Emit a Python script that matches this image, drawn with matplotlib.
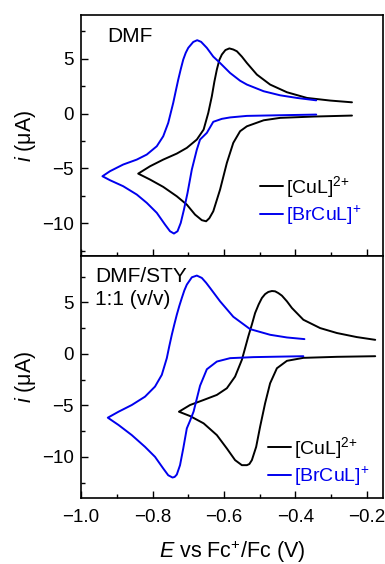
import matplotlib
matplotlib.use("Agg")
import matplotlib.pyplot as plt
from matplotlib.ticker import MultipleLocator

plt.rcParams['font.family'] = ['Liberation Sans', 'DejaVu Sans']
plt.rcParams['mathtext.fontset'] = 'custom'
plt.rcParams['mathtext.rm'] = 'Liberation Sans'
plt.rcParams['mathtext.it'] = 'Liberation Sans:italic'

# ---- DMF panel: [CuL]2+ (cathodic sweep right->left, then anodic sweep left->right) ----
dmf_cu_E = [-0.242, -0.349, -0.443, -0.489, -0.536, -0.555, -0.574, -0.592, -0.611, -0.630,
            -0.641, -0.650, -0.662, -0.681, -0.704, -0.732, -0.770, -0.807, -0.840,
            -0.807, -0.770, -0.732, -0.704, -0.676, -0.657, -0.644, -0.634, -0.627, -0.620,
            -0.613, -0.606, -0.596, -0.585, -0.574, -0.564, -0.550, -0.536, -0.508, -0.471,
            -0.424, -0.368, -0.303, -0.242]
dmf_cu_i = [-0.18, -0.27, -0.39, -0.61, -1.16, -1.61, -2.67, -4.5, -6.94, -8.92,
            -9.55, -9.83, -9.73, -9.22, -8.31, -7.55, -6.69, -6.02, -5.48,
            -4.81, -4.20, -3.65, -3.13, -2.37, -1.46, 0.06, 1.58, 2.9, 4.02,
            4.9, 5.39, 5.8, 5.95, 5.85, 5.69, 5.2, 4.62, 3.56, 2.65,
            1.95, 1.43, 1.19, 1.03]

# ---- DMF panel: [BrCuL]+ ----
dmf_br_E = [-0.342, -0.443, -0.536, -0.583, -0.606, -0.630, -0.648, -0.667, -0.676, -0.690,
            -0.702, -0.712, -0.721, -0.730, -0.740, -0.751, -0.765, -0.788, -0.816, -0.844,
            -0.882, -0.919, -0.940,
            -0.919, -0.882, -0.844, -0.816, -0.788, -0.770, -0.756, -0.742, -0.735, -0.728,
            -0.721, -0.714, -0.707, -0.700, -0.686, -0.675, -0.664, -0.648, -0.630, -0.611,
            -0.583, -0.555, -0.536, -0.489, -0.443, -0.396, -0.342]
dmf_br_i = [-0.09, -0.15, -0.21, -0.35, -0.48, -0.75, -1.76, -2.37, -3.29, -5.11,
            -7.24, -8.76, -9.98, -10.74, -10.95, -10.74, -10.13, -9.06, -8.15, -7.39,
            -6.63, -6.08, -5.72,
            -5.26, -4.65, -4.20, -3.74, -2.98, -2.07, -0.85, 0.98, 2.05, 3.10,
            4.05, 4.93, 5.55, 6.0, 6.54, 6.70, 6.55, 6.0, 5.2, 4.62,
            3.71, 3.0, 2.65, 2.04, 1.67, 1.43, 1.21]

# ---- DMF/STY panel: [CuL]2+ ----
sty_cu_E = [-0.177, -0.284, -0.378, -0.424, -0.452, -0.471, -0.485, -0.499, -0.510, -0.522,
            -0.529, -0.536, -0.550, -0.569, -0.592, -0.620, -0.657, -0.695, -0.726,
            -0.695, -0.657, -0.620, -0.592, -0.569, -0.550, -0.541, -0.532, -0.522, -0.513,
            -0.503, -0.494, -0.485, -0.476, -0.466, -0.457, -0.448, -0.438, -0.424, -0.410,
            -0.378, -0.331, -0.284, -0.229, -0.177]
sty_cu_i = [-0.23, -0.29, -0.39, -0.68, -1.40, -2.86, -4.80, -7.08, -9.03, -10.32,
            -10.7, -10.81, -10.81, -10.32, -9.19, -7.89, -6.75, -6.04, -5.62,
            -4.97, -4.48, -3.99, -3.34, -2.21, -0.58, 0.55, 1.69, 2.85, 3.96,
            4.8, 5.42, 5.8, 6.01, 6.1, 6.07, 5.9, 5.65, 5.1, 4.45,
            3.31, 2.50, 2.02, 1.63, 1.36]

# ---- DMF/STY panel: [BrCuL]+ ----
sty_br_E = [-0.378, -0.518, -0.583, -0.620, -0.648, -0.667, -0.685, -0.695, -0.704, -0.714,
            -0.723, -0.732, -0.738, -0.744, -0.756, -0.770, -0.793, -0.821, -0.858, -0.895,
            -0.925,
            -0.895, -0.858, -0.821, -0.793, -0.774, -0.760, -0.753, -0.746, -0.739, -0.732,
            -0.725, -0.718, -0.711, -0.704, -0.690, -0.676, -0.662, -0.650, -0.639, -0.611,
            -0.574, -0.527, -0.471, -0.424, -0.375]
sty_br_i = [-0.23, -0.32, -0.42, -0.75, -1.50, -3.1, -5.6, -6.5, -7.24, -9.19,
            -10.81, -11.72, -11.95, -12.01, -11.79, -11.13, -10.0, -9.03, -7.89, -6.91,
            -6.20,
            -5.62, -4.97, -4.16, -3.18, -2.04, -0.42, 0.75, 1.85, 2.85, 3.80,
            4.65, 5.42, 6.15, 6.72, 7.43, 7.60, 7.37, 6.9, 6.40, 5.1,
            3.6, 2.40, 1.85, 1.59, 1.43]

labels = ['[CuL]$^{2{+}}$', '[BrCuL]$^{{+}}$']
colors = ['black', '#0000ee']
xticks = [-1.0, -0.8, -0.6, -0.4, -0.2]
xticklabels = ['\u22121.0', '\u22120.8', '\u22120.6', '\u22120.4', '\u22120.2']

fig = plt.figure(figsize=(3.85, 5.64), dpi=100)
ax1 = fig.add_axes([0.2104, 0.5461, 0.7846, 0.4273])
ax2 = fig.add_axes([0.2104, 0.1170, 0.7846, 0.4291], sharex=ax1)

legend_anchor = {0: (0.593, 0.230), 1: (0.619, 0.151)}

for k, (ax, cu, br) in enumerate([(ax1, (dmf_cu_E, dmf_cu_i), (dmf_br_E, dmf_br_i)),
                                  (ax2, (sty_cu_E, sty_cu_i), (sty_br_E, sty_br_i))]):
    ax.plot(cu[0], cu[1], color=colors[0], lw=1.4, label=labels[0],
            solid_joinstyle='round', solid_capstyle='round')
    ax.plot(br[0], br[1], color=colors[1], lw=1.4, label=labels[1],
            solid_joinstyle='round', solid_capstyle='round')
    ax.set_xlim(-1.0, -0.155)
    ax.set_xticks(xticks)
    ax.xaxis.set_minor_locator(MultipleLocator(0.1))
    ax.yaxis.set_major_locator(MultipleLocator(5))
    ax.yaxis.set_minor_locator(MultipleLocator(2.5))
    ax.tick_params(which='both', direction='in', labelsize=13.5, top=False, right=False)
    ax.tick_params(which='major', length=5, width=1)
    ax.tick_params(which='minor', length=3, width=1)
    ax.tick_params(axis='x', which='major', pad=8)
    ax.tick_params(axis='y', which='major', pad=5)
    for s in ax.spines.values():
        s.set_linewidth(1.2)
    ax.set_ylabel('$i$ (μA)', fontsize=15.5, labelpad=3)
    ax.legend(loc='center left', bbox_to_anchor=legend_anchor[k], frameon=False,
              fontsize=14, handlelength=1.2, handletextpad=0.15, labelspacing=0.2,
              labelcolor='linecolor', borderpad=0, borderaxespad=0)

ax1.set_ylim(-13, 9)
ax2.set_ylim(-14, 9.5)
ax1.tick_params(axis='x', labelbottom=False)
ax2.set_xticklabels(xticklabels)

ax1.text(0.086, 0.909, 'DMF', transform=ax1.transAxes, fontsize=15, va='center')
ax2.text(0.046, 0.917, 'DMF/STY', transform=ax2.transAxes, fontsize=15, va='center')
ax2.text(0.046, 0.822, '1:1 (v/v)', transform=ax2.transAxes, fontsize=15, va='center')

ax2.set_xlabel('$E$ vs Fc$^{+}$/Fc (V)', fontsize=15.5, labelpad=9)

fig.savefig('out.png', dpi=100)
